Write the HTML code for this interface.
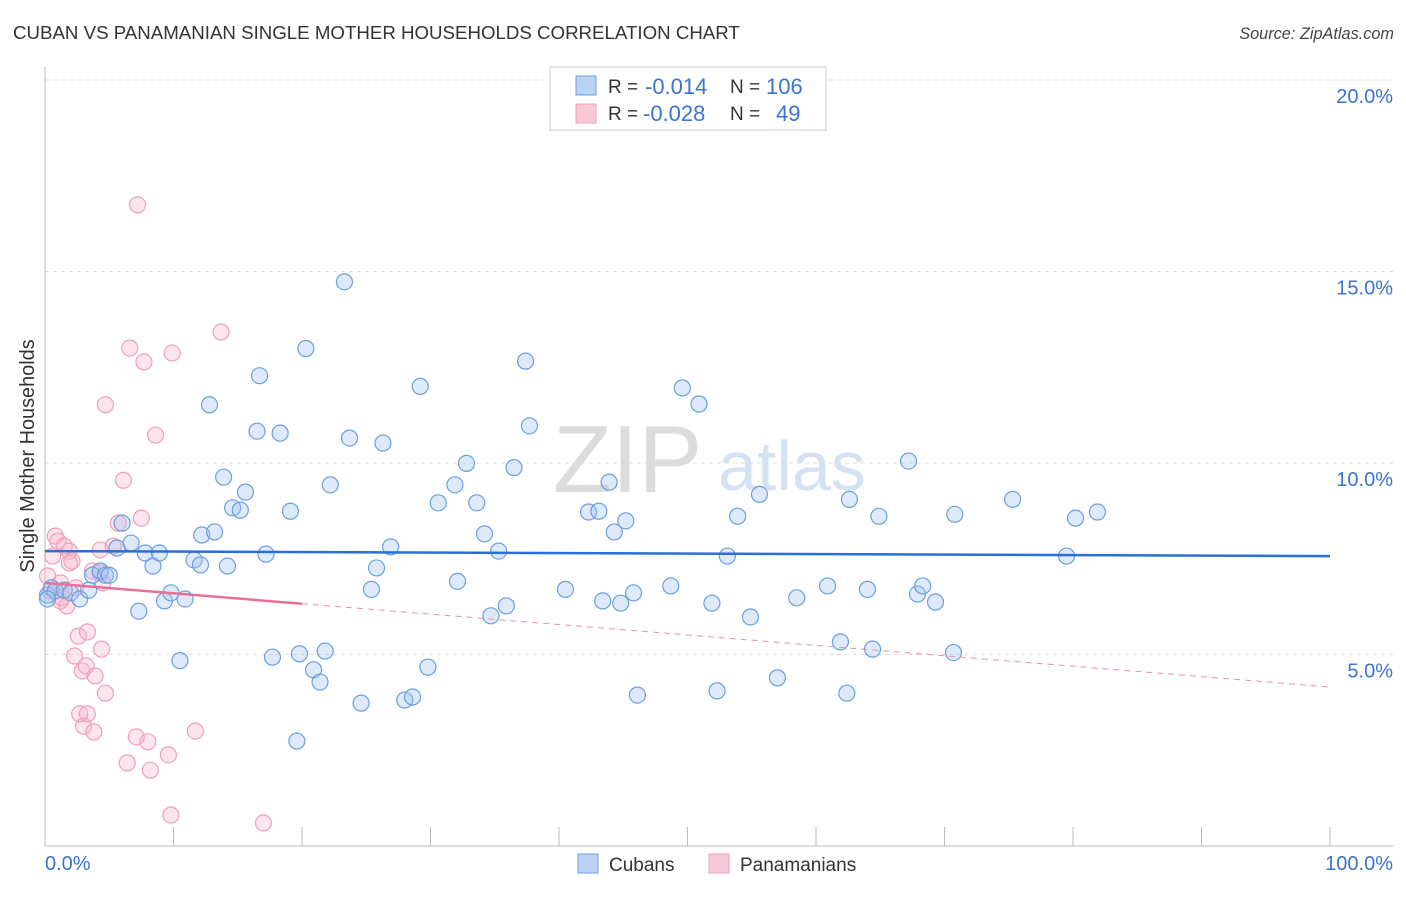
<!DOCTYPE html>
<html><head><meta charset="utf-8"><style>
body{margin:0;background:#fff;font-family:"Liberation Sans",sans-serif;}
svg text{font-family:"Liberation Sans",sans-serif;}
</style></head><body>
<svg id="chart" width="1406" height="892" viewBox="0 0 1406 892" xmlns="http://www.w3.org/2000/svg">
<text x="13" y="39" font-size="18.7" fill="#333">CUBAN VS PANAMANIAN SINGLE MOTHER HOUSEHOLDS CORRELATION CHART</text>
<text x="1394" y="39" font-size="16.3" fill="#444" text-anchor="end" font-style="italic">Source: ZipAtlas.com</text>
<g>
<text x="553" y="492" font-size="96" fill="#dcdcdc" font-family="Liberation Serif,serif">ZIP</text>
<text x="718" y="490" font-size="70" fill="#d4e2f4">atlas</text>
</g>
<text transform="translate(34,456) rotate(-90)" font-size="19.9" fill="#333" text-anchor="middle">Single Mother Households</text>
<g id="grid"></g>
<g id="axes"></g>
<g id="points"></g>
<g id="lines"></g>
<g>
<rect x="550" y="67" width="276" height="63" fill="#fff" stroke="#ccc"/>
<rect x="576" y="76" width="20" height="19" fill="#b9d3f5" stroke="#6a9fe0"/>
<text x="608" y="93" font-size="19" fill="#333">R = </text><text x="645" y="94" font-size="22" fill="#3b73d1">-0.014</text>
<text x="730" y="93" font-size="19" fill="#333">N = </text><text x="766" y="94" font-size="22" fill="#3b73d1">106</text>
<rect x="576" y="104" width="20" height="19" fill="#f9c8d7" stroke="#f0a0b8"/>
<text x="608" y="120" font-size="19" fill="#333">R = </text><text x="643" y="121" font-size="22" fill="#3b73d1">-0.028</text>
<text x="730" y="120" font-size="19" fill="#333">N = </text><text x="776" y="121" font-size="22" fill="#3b73d1">49</text>
</g>
<g>
<rect x="578" y="854" width="20" height="19" fill="#b9d3f5" stroke="#6a9fe0"/>
<text x="609" y="871" font-size="19" fill="#333">Cubans</text>
<rect x="709" y="854" width="20" height="19" fill="#f9c8d7" stroke="#f0a0b8"/>
<text x="740" y="871" font-size="19" fill="#333">Panamanians</text>
</g>
</svg>
<script>
const yTicks=[5,10,15,20];
const yTickLabels=["5.0%","10.0%","15.0%","20.0%"];
const xTicks=[0,10,20,30,40,50,60,70,80,90,100];
const cubanX=[0.2,0.5,0.8,1.5,2.0,2.7,3.4,3.7,4.3,4.7,5.0,5.6,6.0,6.7,7.3,7.8,8.4,8.9,9.3,9.8,10.5,10.9,11.6,12.1,12.2,12.8,13.2,13.9,14.2,14.6,15.2,15.6,16.5,16.7,17.2,17.7,18.3,19.1,19.6,19.8,20.3,20.9,21.4,21.8,22.2,23.3,23.7,24.6,25.4,25.8,26.3,26.9,28.0,28.6,29.2,29.8,30.6,31.9,32.1,32.8,33.6,34.2,34.7,35.3,35.9,36.5,37.4,37.7,40.5,42.3,43.1,43.4,43.9,44.3,44.8,45.2,45.8,46.1,48.7,49.6,50.9,51.9,52.3,53.9,53.1,54.9,55.6,57.0,58.5,60.9,61.9,62.4,62.6,64.0,64.4,64.9,67.2,67.9,68.3,69.3,70.7,70.8,75.3,79.5,80.2,81.9,0.2];
const cubanY=[6.55,6.74,6.66,6.68,6.61,6.45,6.68,7.07,7.18,7.07,7.07,7.78,8.43,7.91,6.13,7.65,7.31,7.65,6.40,6.61,4.84,6.45,7.47,7.34,8.12,11.52,8.20,9.63,7.31,8.83,8.77,9.24,10.83,12.28,7.62,4.93,10.78,8.74,2.74,5.02,12.99,4.60,4.28,5.09,9.43,14.73,10.65,3.73,6.70,7.26,10.52,7.81,3.81,3.89,12.00,4.67,8.96,9.43,6.91,9.99,8.96,8.15,6.01,7.70,6.27,9.88,12.66,10.97,6.70,8.72,8.74,6.40,9.50,8.20,6.34,8.49,6.61,3.94,6.79,11.96,11.54,6.34,4.05,8.61,7.57,5.98,9.18,4.39,6.48,6.79,5.33,3.99,9.05,6.70,5.14,8.61,10.05,6.58,6.79,6.37,5.05,8.66,9.05,7.57,8.56,8.72,6.45];
const panX=[0.2,0.4,0.6,0.8,1.0,1.2,1.3,1.5,1.7,1.9,2.1,2.3,2.4,2.6,2.7,2.9,3.0,3.2,3.3,3.3,3.7,3.8,3.9,4.3,4.4,4.5,4.7,4.7,5.3,5.7,6.1,6.4,6.6,7.1,7.2,7.5,7.7,8.0,8.2,8.6,9.6,9.9,9.8,11.7,13.7,17.0,4.3,1.2,1.9];
const panY=[7.05,6.66,7.57,8.09,7.96,6.87,6.48,7.83,6.27,7.70,7.44,4.96,6.74,5.48,3.45,4.57,3.13,4.70,3.45,5.59,7.18,2.98,4.44,7.73,5.14,6.87,3.99,11.52,7.83,8.43,9.55,2.17,13.00,2.85,16.74,8.56,12.64,2.72,1.98,10.73,2.38,12.87,0.81,3.00,13.42,0.60,7.13,6.40,7.39];
const blueFit=[7.70,7.57];
const pinkFit=[6.87,4.15];
const X0=45,X1=1330,Y0=846,PY=38.3;
const sx=v=>X0+(X1-X0)*v/100, sy=v=>Y0-PY*v;
const NS="http://www.w3.org/2000/svg";
function mk(tag,attrs,parent){const e=document.createElementNS(NS,tag);for(const k in attrs)e.setAttribute(k,attrs[k]);document.getElementById(parent).appendChild(e);return e;}
yTicks.forEach((t,i)=>{
 const g=mk('line',{x1:45,x2:1393,y1:sy(t),y2:sy(t),stroke:'#dcdcdc','stroke-dasharray':'4,4'},'grid');
 
 
 const l=mk('text',{x:1393,y:sy(t)+23,'font-size':20,fill:'#3b73d1','text-anchor':'end'},'axes');
 l.textContent=yTickLabels[i];
 
 
});
let a=mk('line',{x1:45,x2:45,y1:67,y2:846,stroke:'#bbb'},'axes');


a=mk('line',{x1:45,x2:1393,y1:846,y2:846,stroke:'#bbb'},'axes');


xTicks.forEach(t=>{const k=mk('line',{x1:sx(t),x2:sx(t),y1:827,y2:846,stroke:'#bbb'},'axes');
 
 });
let t0=mk('text',{x:45,y:870,'font-size':20,fill:'#3b73d1'},'axes');t0.textContent='0.0%';


let t1=mk('text',{x:1393,y:870,'font-size':20,fill:'#3b73d1','text-anchor':'end'},'axes');t1.textContent='100.0%';


panX.forEach((x,i)=>{const c=mk('circle',{cx:sx(x),cy:sy(panY[i]),r:8,fill:'rgba(246,180,200,0.35)',stroke:'#f0a0b8','stroke-width':1.2},'points');
 
 });
cubanX.forEach((x,i)=>{const c=mk('circle',{cx:sx(x),cy:sy(cubanY[i]),r:8,fill:'rgba(160,196,240,0.35)',stroke:'#6a9fe0','stroke-width':1.2},'points');
 
 });
let b=mk('line',{x1:sx(0),x2:sx(100),y1:sy(blueFit[0]),y2:sy(blueFit[1]),stroke:'#2a6fd6','stroke-width':2.5},'lines');


const pAt=x=>pinkFit[0]+(pinkFit[1]-pinkFit[0])*x/100;
let p=mk('line',{x1:sx(0),x2:sx(20),y1:sy(pAt(0)),y2:sy(pAt(20)),stroke:'#e87098','stroke-width':2.5},'lines');


let pd=mk('line',{x1:sx(20),x2:sx(100),y1:sy(pAt(20)),y2:sy(pAt(100)),stroke:'#e890aa','stroke-width':1,'stroke-dasharray':'6,5'},'lines');


</script>
</body></html>
